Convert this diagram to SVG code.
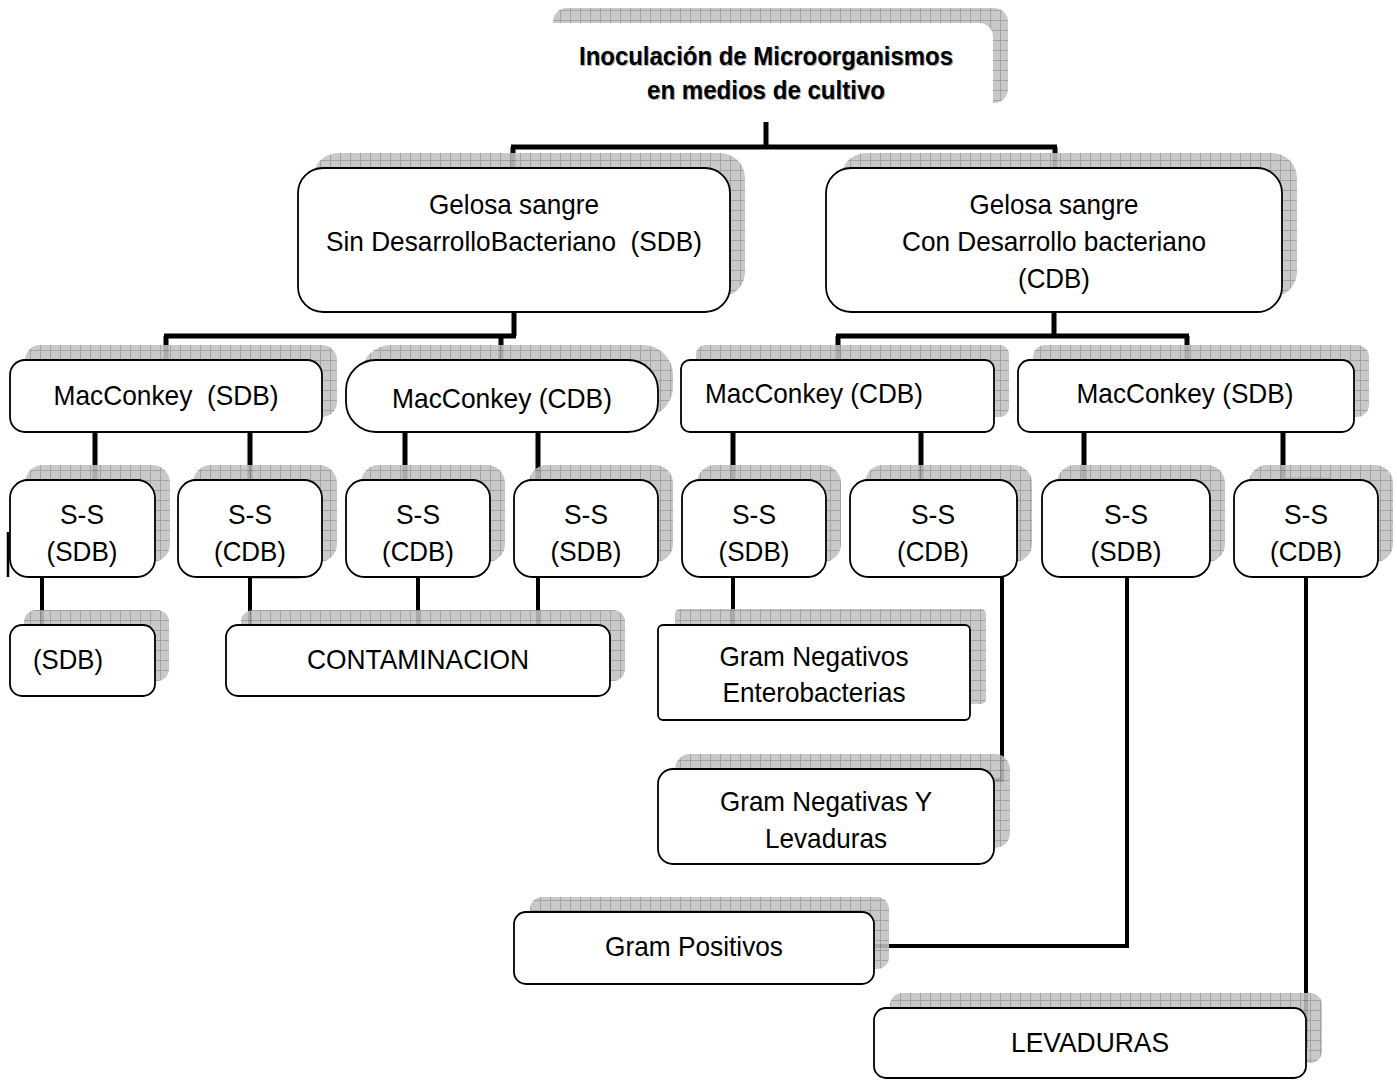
<svg xmlns="http://www.w3.org/2000/svg" width="1397" height="1080" viewBox="0 0 1397 1080">
<defs>
<pattern id="grid" width="10" height="10" patternUnits="userSpaceOnUse">
<rect width="10" height="10" fill="#c2c2c2"/>
<path d="M0 0.5H10M0.5 0V10" stroke="#969696" stroke-width="1" fill="none"/>
</pattern>
<style>
.sh{fill:url(#grid);opacity:0.88}
.bx{fill:#fff;stroke:#000;stroke-width:1.8}
.t{font-family:"Liberation Sans",Arial,sans-serif;font-size:28px;text-anchor:middle;fill:#000}
.tt{font-family:"Liberation Sans",Arial,sans-serif;font-size:25px;font-weight:bold;text-anchor:middle}
.c{fill:none;stroke:#000;stroke-width:5}
.c4{fill:none;stroke:#000;stroke-width:4}
.c2{fill:none;stroke:#000;stroke-width:2.5}
</style>
</defs>
<rect width="1397" height="1080" fill="#fff"/>
<g id="connectors">
<path class="c" d="M766 122V147M511 147H1057M513 147V170M1055 147V170"/>
<path class="c" d="M514 312V336M164 336H516M166 336V362M501 336V362"/>
<path class="c" d="M1054 312V336M836 336H1189M838 336V362M1187 336V362"/>
<path class="c" d="M95 432V482M250 432V482M405 432V482M538 432V482M733 432V482M921 432V482M1084 432V482M1283 432V482"/>
<path class="c4" d="M42 577V627M250 577V627M418 577V627M538 577V627M733 577V627"/>
<path class="c4" d="M1002 577V780H992M1127 577V946H872M1306 577V1048"/>
<path class="c2" d="M8 532V577M250 577H300M1282 479H1330"/>
</g>
<g id="title">
<rect class="sh" x="553" y="8" width="455" height="95" rx="14"/>
<rect x="538" y="23" width="455" height="95" rx="14" fill="#fff"/>
<text class="tt" x="767" y="66" fill="#b0b0b0" textLength="374" lengthAdjust="spacingAndGlyphs">Inoculación de Microorganismos</text>
<text class="tt" x="767" y="100" fill="#b0b0b0" textLength="238" lengthAdjust="spacingAndGlyphs">en medios de cultivo</text>
<text class="tt" x="766" y="65" fill="#000" textLength="374" lengthAdjust="spacingAndGlyphs">Inoculación de Microorganismos</text>
<text class="tt" x="766" y="99" fill="#000" textLength="238" lengthAdjust="spacingAndGlyphs">en medios de cultivo</text>
</g>
<g id="gelosa-sdb">
<rect class="sh" x="313" y="153" width="432" height="144" rx="25"/>
<rect class="bx" x="298" y="168" width="432" height="144" rx="25"/>
<text class="t" x="514" y="214" textLength="170" lengthAdjust="spacingAndGlyphs">Gelosa sangre</text>
<text class="t" x="514" y="251" textLength="376" lengthAdjust="spacingAndGlyphs">Sin DesarrolloBacteriano &#160;(SDB)</text>
</g>
<g id="gelosa-cdb">
<rect class="sh" x="841" y="153" width="456" height="144" rx="25"/>
<rect class="bx" x="826" y="168" width="456" height="144" rx="25"/>
<text class="t" x="1054" y="214" textLength="169" lengthAdjust="spacingAndGlyphs">Gelosa sangre</text>
<text class="t" x="1054" y="251" textLength="304" lengthAdjust="spacingAndGlyphs">Con Desarrollo bacteriano</text>
<text class="t" x="1054" y="288" textLength="72" lengthAdjust="spacingAndGlyphs">(CDB)</text>
</g>
<g id="mac-sdb-1">
<rect class="sh" x="25" y="345" width="312" height="72" rx="15"/>
<rect class="bx" x="10" y="360" width="312" height="72" rx="15"/>
<text class="t" x="166" y="405" textLength="225" lengthAdjust="spacingAndGlyphs">MacConkey &#160;(SDB)</text>
</g>
<g id="mac-cdb-1">
<rect class="sh" x="361" y="345" width="312" height="72" rx="30"/>
<rect class="bx" x="346" y="360" width="312" height="72" rx="30"/>
<text class="t" x="502" y="408" textLength="220" lengthAdjust="spacingAndGlyphs">MacConkey (CDB)</text>
</g>
<g id="mac-cdb-2">
<rect class="sh" x="696" y="345" width="313" height="72" rx="9"/>
<rect class="bx" x="681" y="360" width="313" height="72" rx="9"/>
<text class="t" x="814" y="403" textLength="218" lengthAdjust="spacingAndGlyphs">MacConkey (CDB)</text>
</g>
<g id="mac-sdb-2">
<rect class="sh" x="1033" y="345" width="336" height="72" rx="12"/>
<rect class="bx" x="1018" y="360" width="336" height="72" rx="12"/>
<text class="t" x="1185" y="403" textLength="217" lengthAdjust="spacingAndGlyphs">MacConkey (SDB)</text>
</g>
<g id="ss-1">
<rect class="sh" x="25" y="465" width="145" height="97" rx="18"/>
<rect class="bx" x="10" y="480" width="145" height="97" rx="18"/>
<text class="t" x="82" y="524" textLength="44" lengthAdjust="spacingAndGlyphs">S-S</text>
<text class="t" x="82" y="561" textLength="71" lengthAdjust="spacingAndGlyphs">(SDB)</text>
</g>
<g id="ss-2">
<rect class="sh" x="193" y="465" width="144" height="97" rx="18"/>
<rect class="bx" x="178" y="480" width="144" height="97" rx="18"/>
<text class="t" x="250" y="524" textLength="44" lengthAdjust="spacingAndGlyphs">S-S</text>
<text class="t" x="250" y="561" textLength="72" lengthAdjust="spacingAndGlyphs">(CDB)</text>
</g>
<g id="ss-3">
<rect class="sh" x="361" y="465" width="144" height="97" rx="18"/>
<rect class="bx" x="346" y="480" width="144" height="97" rx="18"/>
<text class="t" x="418" y="524" textLength="44" lengthAdjust="spacingAndGlyphs">S-S</text>
<text class="t" x="418" y="561" textLength="72" lengthAdjust="spacingAndGlyphs">(CDB)</text>
</g>
<g id="ss-4">
<rect class="sh" x="529" y="465" width="144" height="97" rx="18"/>
<rect class="bx" x="514" y="480" width="144" height="97" rx="18"/>
<text class="t" x="586" y="524" textLength="44" lengthAdjust="spacingAndGlyphs">S-S</text>
<text class="t" x="586" y="561" textLength="71" lengthAdjust="spacingAndGlyphs">(SDB)</text>
</g>
<g id="ss-5">
<rect class="sh" x="697" y="465" width="144" height="97" rx="18"/>
<rect class="bx" x="682" y="480" width="144" height="97" rx="18"/>
<text class="t" x="754" y="524" textLength="44" lengthAdjust="spacingAndGlyphs">S-S</text>
<text class="t" x="754" y="561" textLength="71" lengthAdjust="spacingAndGlyphs">(SDB)</text>
</g>
<g id="ss-6">
<rect class="sh" x="865" y="465" width="167" height="97" rx="18"/>
<rect class="bx" x="850" y="480" width="167" height="97" rx="18"/>
<text class="t" x="933" y="524" textLength="44" lengthAdjust="spacingAndGlyphs">S-S</text>
<text class="t" x="933" y="561" textLength="72" lengthAdjust="spacingAndGlyphs">(CDB)</text>
</g>
<g id="ss-7">
<rect class="sh" x="1057" y="465" width="168" height="97" rx="18"/>
<rect class="bx" x="1042" y="480" width="168" height="97" rx="18"/>
<text class="t" x="1126" y="524" textLength="44" lengthAdjust="spacingAndGlyphs">S-S</text>
<text class="t" x="1126" y="561" textLength="71" lengthAdjust="spacingAndGlyphs">(SDB)</text>
</g>
<g id="ss-8">
<rect class="sh" x="1249" y="465" width="144" height="97" rx="18"/>
<rect class="bx" x="1234" y="480" width="144" height="97" rx="18"/>
<text class="t" x="1306" y="524" textLength="44" lengthAdjust="spacingAndGlyphs">S-S</text>
<text class="t" x="1306" y="561" textLength="72" lengthAdjust="spacingAndGlyphs">(CDB)</text>
</g>
<g id="sdb-final">
<rect class="sh" x="24" y="610" width="145" height="71" rx="12"/>
<rect class="bx" x="10" y="625" width="145" height="71" rx="12"/>
<text class="t" x="68" y="669" textLength="70" lengthAdjust="spacingAndGlyphs">(SDB)</text>
</g>
<g id="contaminacion">
<rect class="sh" x="241" y="610" width="384" height="71" rx="12"/>
<rect class="bx" x="226" y="625" width="384" height="71" rx="12"/>
<text class="t" x="418" y="669" textLength="222" lengthAdjust="spacingAndGlyphs">CONTAMINACION</text>
</g>
<g id="gram-neg-entero">
<rect class="sh" x="675" y="609" width="311" height="95" rx="5"/>
<rect class="bx" x="658" y="625" width="312" height="95" rx="5"/>
<text class="t" x="814" y="666" textLength="189" lengthAdjust="spacingAndGlyphs">Gram Negativos</text>
<text class="t" x="814" y="702" textLength="183" lengthAdjust="spacingAndGlyphs">Enterobacterias</text>
</g>
<g id="gram-neg-lev">
<rect class="sh" x="675" y="754" width="335" height="94" rx="15"/>
<rect class="bx" x="658" y="769" width="336" height="95" rx="15"/>
<text class="t" x="826" y="811" textLength="212" lengthAdjust="spacingAndGlyphs">Gram Negativas Y</text>
<text class="t" x="826" y="848" textLength="122" lengthAdjust="spacingAndGlyphs">Levaduras</text>
</g>
<g id="gram-pos">
<rect class="sh" x="530" y="897" width="359" height="72" rx="12"/>
<rect class="bx" x="514" y="912" width="360" height="72" rx="12"/>
<text class="t" x="694" y="956" textLength="178" lengthAdjust="spacingAndGlyphs">Gram Positivos</text>
</g>
<g id="levaduras">
<rect class="sh" x="890" y="993" width="432" height="70" rx="12"/>
<rect class="bx" x="874" y="1008" width="432" height="70" rx="12"/>
<text class="t" x="1090" y="1052" textLength="158" lengthAdjust="spacingAndGlyphs">LEVADURAS</text>
</g>
</svg>
